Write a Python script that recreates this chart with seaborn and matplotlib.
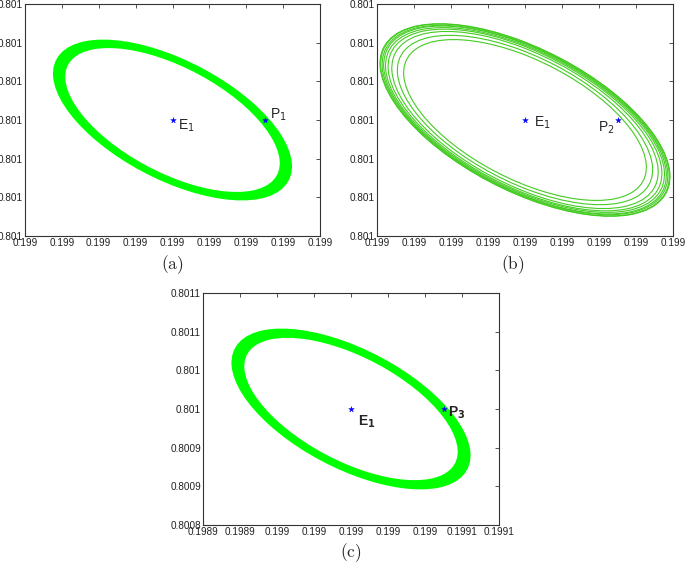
import numpy as np
import matplotlib
matplotlib.use("Agg")
import matplotlib.pyplot as plt
from matplotlib.patches import Ellipse
import seaborn as sns

# axis ticks shared by all three panels
x_ticks = [0.19892, 0.19894, 0.19896, 0.19898, 0.19900, 0.19902, 0.19904, 0.19906, 0.19908]
y_ticks = [0.80080, 0.80085, 0.80090, 0.80095, 0.80100, 0.80105, 0.80110]

xlabels_ab = ["0.199", "0.199", "0.199", "0.199", "0.199", "0.199", "0.199", "0.199", "0.199"]
ylabels_ab = ["0.801", "0.801", "0.801", "0.801", "0.801", "0.801", "0.801"]
xlabels_c = ["0.1989", "0.1989", "0.199", "0.199", "0.199", "0.199", "0.199", "0.1991", "0.1991"]
ylabels_c = ["0.8008", "0.8009", "0.8009", "0.801", "0.801", "0.8011", "0.8011"]

# equilibrium E1 and the points P1, P2, P3
e1 = (0.19900, 0.80095)
p_pts = [(0.19905, 0.80095), (0.19905, 0.80095), (0.19905, 0.80095)]

# orbit rings: half x-extent, half y-extent, phase lag (deg)
rings_a_x = [5.90e-5, 6.00e-5, 6.10e-5, 6.20e-5, 6.30e-5, 6.40e-5]
rings_a_y = [9.50e-5, 9.65e-5, 9.80e-5, 9.90e-5, 10.05e-5, 10.20e-5]
rings_b_x = [6.56e-5, 6.90e-5, 7.20e-5, 7.40e-5, 7.54e-5, 7.64e-5, 7.72e-5, 7.80e-5, 7.84e-5]
rings_b_y = [10.40e-5, 10.95e-5, 11.45e-5, 11.75e-5, 11.95e-5, 12.15e-5, 12.25e-5, 12.40e-5, 12.45e-5]
rings_c_x = [5.85e-5, 5.95e-5, 6.05e-5, 6.15e-5, 6.25e-5, 6.38e-5]
rings_c_y = [9.40e-5, 9.55e-5, 9.70e-5, 9.85e-5, 10.00e-5, 10.20e-5]
phase = 126


def ring(cx, cy, hx, hy, ph, **kw):
    c = np.cos(np.radians(ph))
    m = np.array([[hx * hx, hx * hy * c], [hx * hy * c, hy * hy]])
    vals, vecs = np.linalg.eigh(m)
    ang = np.degrees(np.arctan2(vecs[1, 1], vecs[0, 1]))
    return Ellipse((cx, cy), 2 * np.sqrt(vals[1]), 2 * np.sqrt(vals[0]),
                   angle=ang, fill=False, **kw)


sns.set_style("white")
plt.rcParams["font.family"] = ["Liberation Sans", "DejaVu Sans"]

fig = plt.figure(figsize=(6.85, 5.63), dpi=100)
ax_a = fig.add_axes([25 / 685, 0.5808, 295 / 685, 0.4121])
ax_b = fig.add_axes([377 / 685, 0.5808, 296 / 685, 0.4121])
ax_c = fig.add_axes([203 / 685, 0.0675, 296 / 685, 0.4121])

panels = [
    (ax_a, rings_a_x, rings_a_y, "#00ff00", 2.2, xlabels_ab, ylabels_ab, 0),
    (ax_b, rings_b_x, rings_b_y, "#44cc22", 0.8, xlabels_ab, ylabels_ab, 1),
    (ax_c, rings_c_x, rings_c_y, "#00ff00", 2.2, xlabels_c, ylabels_c, 2),
]

for ax, hxs, hys, col, lw, xl, yl, i in panels:
    for hx, hy in zip(hxs, hys):
        ax.add_patch(ring(e1[0], e1[1], hx, hy, phase, edgecolor=col, lw=lw))
    sns.scatterplot(x=[e1[0], p_pts[i][0]], y=[e1[1], p_pts[i][1]], ax=ax,
                    marker="*", s=18, color="blue", edgecolor="blue",
                    linewidth=0.3, zorder=5)
    ax.set_xlim(x_ticks[0], x_ticks[-1])
    ax.set_ylim(y_ticks[0], y_ticks[-1])
    ax.set_xticks(x_ticks)
    ax.set_xticklabels(xl)
    ax.set_yticks(y_ticks)
    ax.set_yticklabels(yl)
    ax.tick_params(direction="in", top=True, right=True, length=3, width=0.6,
                   labelsize=7.2, pad=1.5, color="#333333", labelcolor="#222222")
    for sp in ax.spines.values():
        sp.set_color("#333333")
        sp.set_linewidth(0.8)

# point labels
ax_a.annotate("E$_1$", e1, xytext=(6, -10), textcoords="offset pixels", fontsize=10)
ax_a.annotate("P$_1$", p_pts[0], xytext=(5, 1), textcoords="offset pixels", fontsize=10)
ax_b.annotate("E$_1$", e1, xytext=(9, -7), textcoords="offset pixels", fontsize=10)
ax_b.annotate("P$_2$", p_pts[1], xytext=(-20, -12), textcoords="offset pixels", fontsize=10)
ax_c.annotate(r"E$_\mathbf{1}$", e1, xytext=(7, -17), textcoords="offset pixels",
              fontsize=10, fontweight="bold")
ax_c.annotate(r"P$_\mathbf{3}$", p_pts[2], xytext=(4, -8), textcoords="offset pixels",
              fontsize=10, fontweight="bold")

# captions
for cx, cy, lab in [(172, 265, "a"), (513, 265, "b"), (351, 553, "c")]:
    fig.text(cx / 685, 1 - cy / 563, r"$(\mathrm{%s})$" % lab, ha="center",
             va="center", fontsize=12.5, math_fontfamily="cm")

fig.savefig("out.png", dpi=100)
